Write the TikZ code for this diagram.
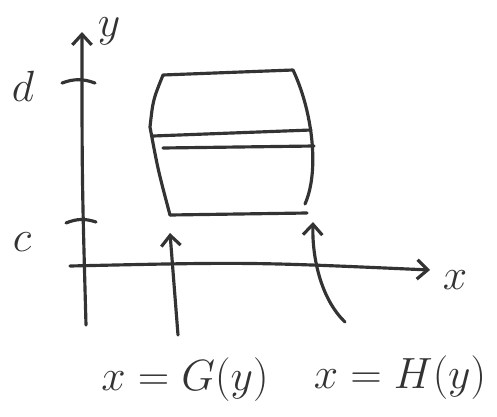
\documentclass[tikz,border=0pt]{standalone}
\usepackage{tikz}
\usetikzlibrary{arrows.meta}
\tikzset{
  skline/.style={line width=1.8pt, draw=black!80, line cap=round, line join=round},
  skaxis/.style={skline, -{Straight Barb[length=6pt,width=11pt,line width=1.8pt]}},
  sklabel/.style={font=\fontsize{23}{27}\selectfont, text=black!80, inner sep=0pt},
  skbig/.style={sklabel, font=\fontsize{27}{31}\selectfont},
}
\begin{document}
\begin{tikzpicture}[x=0.02cm,y=-0.02cm]
\useasboundingbox (0,0) rectangle (497,416);
% axes
\coordinate (yb) at (86,325);
\coordinate (yt) at (82,32);
\coordinate (xl) at (70,266);
\coordinate (xr) at (430,270);
\draw[skaxis] (yb) .. controls (82,180) .. (yt);
\draw[skaxis] (xl) .. controls (250,262) .. (xr);
\node[sklabel] (ylab) at (109,31) {$y$};
\node[sklabel] (xlab) at (455,280) {$x$};
% ticks on y
\coordinate (dl) at (62,83);
\coordinate (dr) at (95,83);
\coordinate (cl) at (66,223);
\coordinate (cr) at (96,222);
\draw[skline] (dl) to[bend left=20] (dr);
\draw[skline] (cl) to[bend left=20] (cr);
\node[skbig] (dlab) at (23,86) {$d$};
\node[skbig] (clab) at (22,242) {$c$};
% region
\coordinate (tl) at (163,75);
\coordinate (tr) at (293,70);
\coordinate (lm) at (150,127);
\coordinate (bl) at (170,215);
\coordinate (br) at (307,213);
\coordinate (re) at (305,204);
\draw[skline] (bl) .. controls (158,170) .. (lm)
  .. controls (153,100) .. (tl) -- (tr)
  .. controls (312,110) and (320,170) .. (re);
\draw[skline] (bl) -- (br);
% strip
\coordinate (s1l) at (153,136);
\coordinate (s1r) at (311,130);
\coordinate (s2l) at (163,148);
\coordinate (s2r) at (314,146);
\draw[skline] (s1l) -- (s1r);
\draw[skline] (s2l) -- (s2r);
% boundary labels
\node[sklabel] (glab) at (185,380) {$x=G(y)$};
\node[sklabel] (hlab) at (400,378) {$x=H(y)$};
\coordinate (ga) at (178,335);
\coordinate (gt) at (170,233);
\coordinate (ha) at (345,322);
\coordinate (ht) at (313,222);
\draw[skaxis] (ga) -- (gt);
\draw[skaxis] (ha) .. controls (322,300) and (312,260) .. (ht);
\end{tikzpicture}
\end{document}
